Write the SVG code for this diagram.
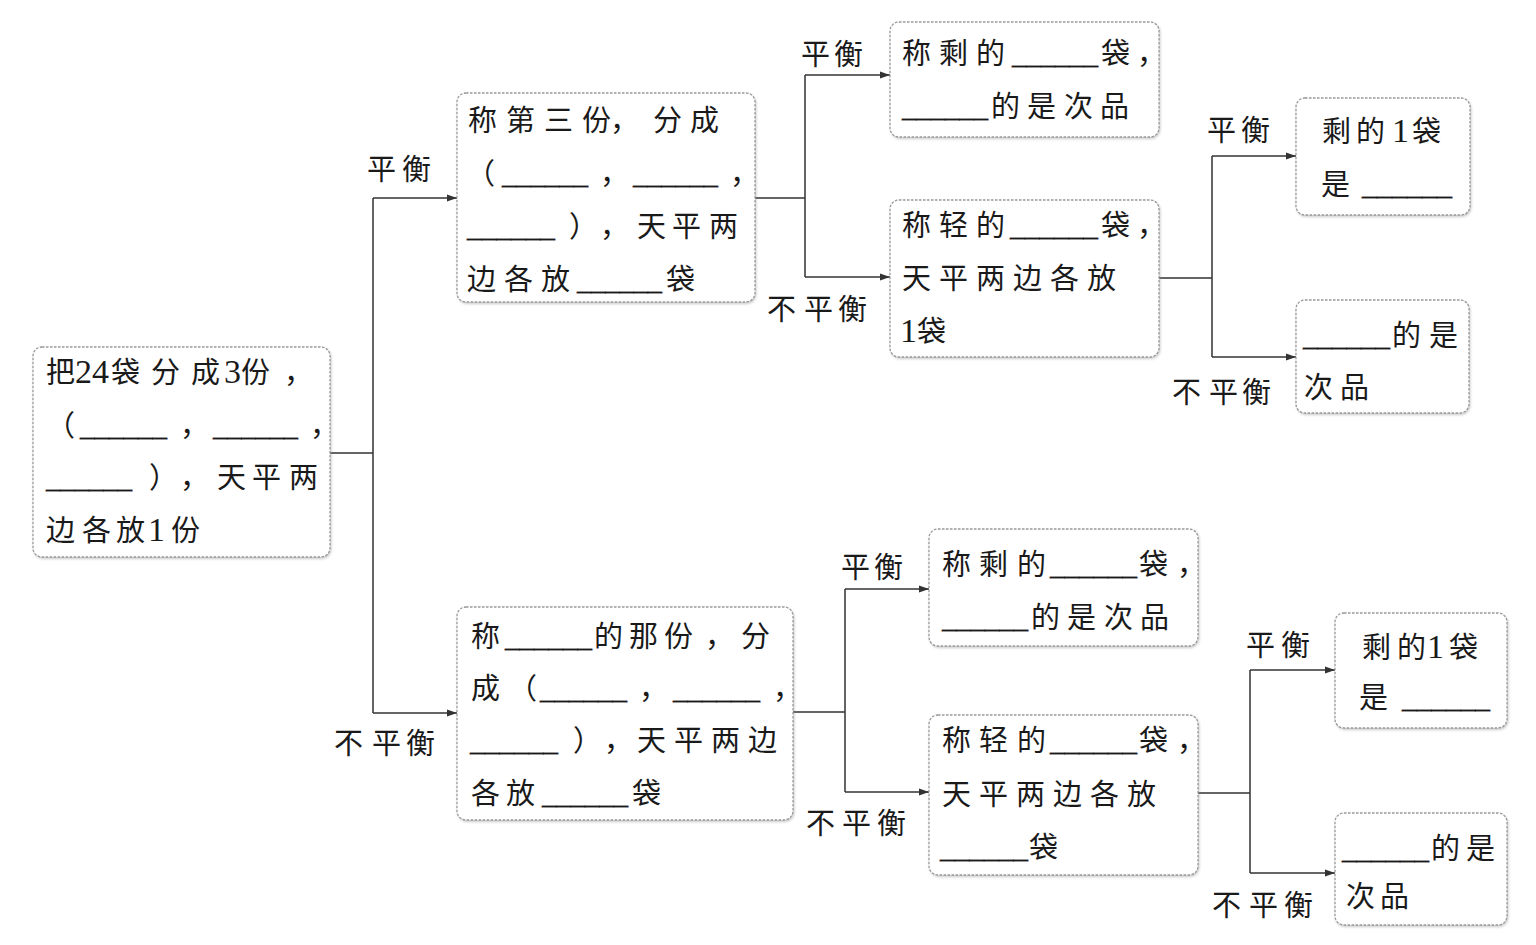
<svg xmlns="http://www.w3.org/2000/svg" width="1536" height="945" viewBox="0 0 1536 945">
<defs>
<filter id="sh" x="-5%" y="-5%" width="110%" height="115%">
<feDropShadow dx="1" dy="1.5" stdDeviation="1" flood-color="#888" flood-opacity="0.45"/>
</filter>
<marker id="ar" markerWidth="10" markerHeight="8" refX="10" refY="4" orient="auto" markerUnits="userSpaceOnUse">
<path d="M0,0.5 L10,4 L0,7.5 Z" fill="#333"/>
</marker>
</defs>
<style>
.box{fill:#fff;stroke:#999;stroke-width:1.3;stroke-dasharray:2.5 1.5;filter:url(#sh)}
.t{font-family:"Liberation Serif","Noto Sans CJK SC",serif;font-size:29px;fill:#1a1a1a}
.d{font-size:34px}
.b{font-family:"Liberation Serif",serif;font-size:29px;fill:#1a1a1a;stroke:#1a1a1a;stroke-width:0.4}
.c{fill:none;stroke:#333;stroke-width:1.5}
.a{marker-end:url(#ar)}
</style>
<rect width="1536" height="945" fill="#fff"/>

<g id="connectors">
<path class="c" d="M330 453 H373 M373 198 V713"/>
<path class="c a" d="M373 198 H457"/>
<path class="c a" d="M373 713 H457"/>
<path class="c" d="M755 198 H805 M805 75 V277"/>
<path class="c a" d="M805 75 H890"/>
<path class="c a" d="M805 277 H890"/>
<path class="c" d="M1159 278 H1212 M1212 156 V357"/>
<path class="c a" d="M1212 156 H1296"/>
<path class="c a" d="M1212 357 H1296"/>
<path class="c" d="M793 712 H845 M845 589 V792"/>
<path class="c a" d="M845 589 H929"/>
<path class="c a" d="M845 792 H929"/>
<path class="c" d="M1198 793 H1250 M1250 670 V873"/>
<path class="c a" d="M1250 670 H1335"/>
<path class="c a" d="M1250 873 H1335"/>
</g>

<g id="labels">
<text class="t" x="367 402" y="180">平衡</text>
<text class="t" x="334 372 406" y="754">不平衡</text>
<text class="t" x="801 834" y="65">平衡</text>
<text class="t" x="767 804 838" y="320">不平衡</text>
<text class="t" x="1207 1241" y="141">平衡</text>
<text class="t" x="1172 1209 1242" y="403">不平衡</text>
<text class="t" x="841 874" y="578">平衡</text>
<text class="t" x="806 842 877" y="834">不平衡</text>
<text class="t" x="1246 1281" y="656">平衡</text>
<text class="t" x="1212 1249 1284" y="916">不平衡</text>
</g>

<g id="nodeA">
<rect class="box" x="33" y="347" width="297" height="210" rx="9"/>
<text class="t" x="46 75 92 111 151 191 224 241 284" y="383">把<tspan class="d">24</tspan>袋分成<tspan class="d">3</tspan>份，</text>
<text class="t" x="46" y="436">（</text>
<text class="b" x="80" y="436" textLength="87" lengthAdjust="spacingAndGlyphs">______</text>
<text class="t" x="180" y="436">，</text>
<text class="b" x="213" y="436" textLength="85" lengthAdjust="spacingAndGlyphs">______</text>
<text class="t" x="310" y="436">，</text>
<text class="b" x="46" y="488" textLength="86" lengthAdjust="spacingAndGlyphs">______</text>
<text class="t" x="149 180 217 252 289" y="488">），天平两</text>
<text class="t" x="46 82 116 148 171" y="541">边各放<tspan class="d">1</tspan>份</text>
</g>

<g id="nodeB">
<rect class="box" x="457" y="93" width="298" height="209" rx="9"/>
<text class="t" x="468 506 544 582 610 653 690" y="131">称第三份，分成</text>
<text class="t" x="466" y="184">（</text>
<text class="b" x="502" y="184" textLength="86" lengthAdjust="spacingAndGlyphs">______</text>
<text class="t" x="600" y="184">，</text>
<text class="b" x="633" y="184" textLength="85" lengthAdjust="spacingAndGlyphs">______</text>
<text class="t" x="730" y="184">，</text>
<text class="b" x="467" y="237" textLength="88" lengthAdjust="spacingAndGlyphs">______</text>
<text class="t" x="569 600 637 672 709" y="237">），天平两</text>
<text class="t" x="467 504 541" y="290">边各放</text>
<text class="b" x="577" y="290" textLength="85" lengthAdjust="spacingAndGlyphs">______</text>
<text class="t" x="666" y="290">袋</text>
</g>

<g id="nodeC">
<rect class="box" x="890" y="22" width="269" height="115" rx="9"/>
<text class="t" x="902 939 976" y="64">称剩的</text>
<text class="b" x="1012" y="64" textLength="86" lengthAdjust="spacingAndGlyphs">______</text>
<text class="t" x="1101 1137" y="64">袋，</text>
<text class="b" x="902" y="117" textLength="86" lengthAdjust="spacingAndGlyphs">______</text>
<text class="t" x="991 1027 1064 1100" y="117">的是次品</text>
</g>

<g id="nodeD">
<rect class="box" x="890" y="200" width="269" height="157" rx="9"/>
<text class="t" x="902 939 976" y="236">称轻的</text>
<text class="b" x="1010" y="236" textLength="88" lengthAdjust="spacingAndGlyphs">______</text>
<text class="t" x="1101 1137" y="236">袋，</text>
<text class="t" x="902 939 976 1013 1050 1087" y="289">天平两边各放</text>
<text class="t" x="900 917" y="342"><tspan class="d">1</tspan>袋</text>
</g>

<g id="nodeE">
<rect class="box" x="1296" y="98" width="174" height="117" rx="9"/>
<text class="t" x="1322 1356 1392 1412" y="142">剩的<tspan class="d">1</tspan>袋</text>
<text class="t" x="1321" y="195">是</text>
<text class="b" x="1362" y="195" textLength="90" lengthAdjust="spacingAndGlyphs">______</text>
</g>

<g id="nodeF">
<rect class="box" x="1296" y="300" width="173" height="113" rx="9"/>
<text class="b" x="1303" y="346" textLength="87" lengthAdjust="spacingAndGlyphs">______</text>
<text class="t" x="1392 1429" y="346">的是</text>
<text class="t" x="1304 1340" y="398">次品</text>
</g>

<g id="nodeG">
<rect class="box" x="457" y="607" width="336" height="213" rx="9"/>
<text class="t" x="471" y="647">称</text>
<text class="b" x="505" y="647" textLength="87" lengthAdjust="spacingAndGlyphs">______</text>
<text class="t" x="594 629 664 705 741" y="647">的那份，分</text>
<text class="t" x="471 508" y="699">成（</text>
<text class="b" x="540" y="699" textLength="87" lengthAdjust="spacingAndGlyphs">______</text>
<text class="t" x="639" y="699">，</text>
<text class="b" x="673" y="699" textLength="87" lengthAdjust="spacingAndGlyphs">______</text>
<text class="t" x="773" y="699">，</text>
<text class="b" x="470" y="751" textLength="88" lengthAdjust="spacingAndGlyphs">______</text>
<text class="t" x="573 604 637 674 711 748" y="751">），天平两边</text>
<text class="t" x="471 506" y="804">各放</text>
<text class="b" x="542" y="804" textLength="86" lengthAdjust="spacingAndGlyphs">______</text>
<text class="t" x="632" y="804">袋</text>
</g>

<g id="nodeH">
<rect class="box" x="929" y="529" width="269" height="117" rx="9"/>
<text class="t" x="942 979 1017" y="575">称剩的</text>
<text class="b" x="1050" y="575" textLength="87" lengthAdjust="spacingAndGlyphs">______</text>
<text class="t" x="1139 1177" y="575">袋，</text>
<text class="b" x="942" y="628" textLength="86" lengthAdjust="spacingAndGlyphs">______</text>
<text class="t" x="1031 1067 1104 1140" y="628">的是次品</text>
</g>

<g id="nodeI">
<rect class="box" x="929" y="715" width="269" height="160" rx="9"/>
<text class="t" x="942 979 1017" y="751">称轻的</text>
<text class="b" x="1050" y="751" textLength="87" lengthAdjust="spacingAndGlyphs">______</text>
<text class="t" x="1139 1177" y="751">袋，</text>
<text class="t" x="942 979 1016 1053 1090 1127" y="805">天平两边各放</text>
<text class="b" x="940" y="858" textLength="88" lengthAdjust="spacingAndGlyphs">______</text>
<text class="t" x="1029" y="858">袋</text>
</g>

<g id="nodeJ">
<rect class="box" x="1335" y="613" width="172" height="115" rx="9"/>
<text class="t" x="1362 1397 1427 1449" y="658">剩的<tspan class="d">1</tspan>袋</text>
<text class="t" x="1359" y="708">是</text>
<text class="b" x="1402" y="708" textLength="88" lengthAdjust="spacingAndGlyphs">______</text>
</g>

<g id="nodeK">
<rect class="box" x="1335" y="813" width="172" height="112" rx="9"/>
<text class="b" x="1342" y="859" textLength="87" lengthAdjust="spacingAndGlyphs">______</text>
<text class="t" x="1431 1466" y="859">的是</text>
<text class="t" x="1346 1380" y="907">次品</text>
</g>
</svg>
